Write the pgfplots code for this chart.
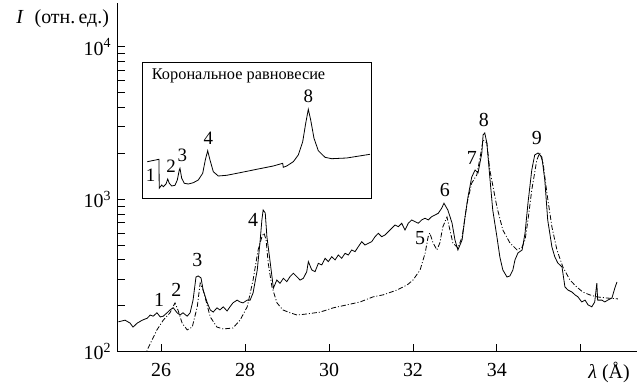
\documentclass[border=0pt]{standalone}
\usepackage{fontspec}
\setmainfont{Liberation Serif}
\usepackage{pgfplots}
\pgfplotsset{compat=1.18}
\begin{document}
\begin{tikzpicture}
\useasboundingbox (-117.5bp,-33.3bp) rectangle (523.5bp,351.7bp);
\begin{axis}[
  at={(0,0)}, anchor=south west,
  scale only axis, width=519.2bp, height=348.7bp,
  xmin=24.96, xmax=37.33,
  ymode=log, ymin=100, ymax=19400,
  axis x line*=bottom, axis y line*=left,
  axis line style={line width=1.1bp},
  tick align=inside,
  xtick={26,28,30,32,34,36}, xticklabels={26,28,30,32,34,{}},
  ytick={100,1000,10000},
  yticklabels={10\textsuperscript{2},10\textsuperscript{3},10\textsuperscript{4}},
  major tick length=7.5bp, minor tick length=7.5bp,
  every tick/.style={black, line width=0.9bp},
  tick label style={font=\fontsize{20}{22}\selectfont},
  xticklabel style={yshift=-8.3bp},
  yticklabel style={xshift=-3bp},
  xlabel={\textit{λ} (Å)},
  xlabel style={at={(axis description cs:0.9467,0)}, anchor=north, yshift=-7bp, font=\fontsize{20}{22}\selectfont},
  ylabel={\textit{I}\hspace{0.55em}(отн.\,ед.)},
  ylabel style={at={(axis description cs:0,1)}, anchor=east, rotate=-90, xshift=-5bp, yshift=-16bp, font=\fontsize{20}{22}\selectfont},
  clip=true,
]
\addplot[black, line width=0.8bp] coordinates {
(24.98,157)(25.14,161)(25.26,154)(25.33,145)(25.43,154)(25.55,161)(25.67,166)(25.74,174)(25.81,171)(25.90,180)(25.98,169)(26.05,171)(26.14,180)(26.21,188)(26.29,194)(26.38,180)(26.45,174)(26.52,180)(26.62,171)(26.69,180)(26.76,218)(26.83,309)(26.88,314)(26.95,305)(27.00,254)(27.10,209)(27.17,188)(27.24,182)(27.33,194)(27.40,188)(27.48,197)(27.57,185)(27.64,197)(27.71,209)(27.81,218)(27.88,212)(27.95,209)(28.05,218)(28.12,218)(28.19,243)(28.29,344)(28.36,541)(28.40,731)(28.43,851)(28.48,813)(28.52,566)(28.60,382)
(28.674,261)(28.755,295)(28.833,281)(28.912,303)(28.993,288)(29.071,311)(29.150,327)(29.231,311)(29.310,295)(29.388,303)(29.469,335)(29.507,390)(29.588,344)(29.667,335)(29.745,380)(29.826,371)(29.905,410)(29.983,390)(30.064,420)(30.143,400)(30.221,431)(30.302,410)(30.381,442)(30.460,431)(30.540,465)(30.619,453)(30.698,489)(30.779,527)(30.857,501)(30.936,514)(31.017,527)(31.095,568)(31.174,598)(31.255,568)(31.333,583)(31.412,613)(31.493,645)(31.571,678)(31.650,661)(31.731,696)(31.810,629)(31.888,696)(31.969,732)(32.048,713)(32.126,696)(32.207,732)(32.286,751)(32.364,732)(32.445,769)(32.524,789)(32.602,809)(32.683,873)(32.738,942)
(32.83,851)(32.93,699)(33.00,541)(33.07,465)(33.17,541)(33.24,765)(33.31,1035)(33.40,1400)(33.48,1557)(33.55,1489)(33.64,2013)(33.67,2642)(33.71,2723)(33.76,2341)(33.83,1400)(33.90,851)(34.00,566)(34.07,418)(34.14,344)(34.24,309)(34.31,314)(34.38,344)(34.43,400)(34.50,444)(34.60,465)(34.67,601)(34.74,946)(34.83,1557)(34.90,1953)(34.98,2013)(35.07,1895)(35.14,1339)(35.21,731)(35.31,486)(35.38,418)(35.45,382)(35.55,360)(35.62,266)(35.69,254)(35.79,246)(35.86,236)(35.93,229)(36.02,212)(36.10,218)(36.17,203)(36.26,197)(36.33,212)(36.38,282)(36.40,218)(36.50,218)(36.57,212)(36.64,218)(36.74,225)(36.81,262)(36.86,287)
};
\addplot[black, line width=0.8bp, dash pattern=on 5bp off 2bp on 1bp off 2bp] coordinates {
(25.60,91)(25.67,103)(25.90,139)(26.05,161)(26.21,180)(26.33,209)(26.40,188)(26.50,154)(26.62,139)(26.74,145)(26.86,197)(26.93,282)(27.00,254)(27.17,169)(27.33,145)(27.48,141)(27.71,143)(27.88,161)(28.05,197)(28.19,295)(28.31,465)(28.40,566)(28.45,601)(28.50,541)(28.55,382)(28.64,266)(28.76,209)(28.90,188)(29.07,180)(29.24,174)(29.48,177)(29.79,182)(30.10,194)(30.43,203)(30.74,212)(31.05,229)(31.29,236)(31.62,254)(31.86,274)(32.00,295)(32.17,344)(32.29,444)(32.36,566)(32.40,601)(32.48,517)(32.57,465)(32.64,517)(32.71,658)(32.81,765)(32.88,629)(32.95,517)(33.07,479)(33.17,566)(33.29,946)(33.40,1279)(33.52,1443)(33.60,1895)(33.67,2449)(33.76,2341)(33.83,1557)(34.00,890)(34.14,629)(34.31,517)(34.48,465)(34.60,486)(34.67,541)(34.74,731)(34.83,1151)(34.95,1811)(35.02,2013)(35.10,1730)(35.19,1100)(35.31,658)(35.43,465)(35.57,360)(35.74,295)(35.90,266)(36.05,246)(36.21,236)(36.38,229)(36.62,225)(36.88,222)
};
\begin{scope}[font=\fontsize{20}{22}\selectfont]
\node at (axis cs:25.95,218) {1};
\node at (axis cs:26.36,254) {2};
\node at (axis cs:26.86,400) {3};
\node at (axis cs:28.19,731) {4};
\node at (axis cs:32.17,557) {5};
\node at (axis cs:32.76,1151) {6};
\node at (axis cs:33.40,1866) {7};
\node at (axis cs:33.69,3313) {8};
\node at (axis cs:34.95,2525) {9};
\end{scope}
\end{axis}
\begin{axis}[
  at={(25.2bp,153.4bp)}, anchor=south west,
  scale only axis, width=229bp, height=136bp,
  xmin=0, xmax=229, ymin=0, ymax=136,
  ticks=none, axis line style={line width=1.1bp},
  clip=false,
]
\addplot[black, line width=0.8bp] coordinates {
(4.6,36.6)(16.3,39)(16.5,10)(19,13.3)(20.6,11.6)(23.3,14.3)(25,19.3)(26.6,15)(29,12.3)(32.3,13)(34.6,18.3)(36.6,28.3)(37.3,30)(39,20)(41.6,15)(45.6,14.3)(50.6,15.6)(55.6,18.3)(60,25)(62.6,38.3)(65,47.6)(67.3,38.3)(70.6,26.6)(75.6,22.3)(84,23)(97.3,25.6)(114,29)(130.6,32.3)(140,35)(140.6,31)(144,32.3)(150.6,36.6)(155.6,43.3)(160,56.6)(163,75)(165.6,89)(168,78.3)(171.3,60)(175.6,47.6)(182.3,41)(189,39.6)(204,40.3)(227.3,44)
};
\begin{scope}[font=\fontsize{19}{21}\selectfont]
\node at (axis cs:8,23.3) {1};
\node at (axis cs:28.3,31.6) {2};
\node at (axis cs:39.6,43.3) {3};
\node at (axis cs:65.6,60) {4};
\node at (axis cs:165.6,101.6) {8};
\end{scope}
\node[anchor=west, inner sep=0pt, font=\fontsize{16.4}{18}\selectfont] at (axis cs:9,122.3) {Корональное равновесие};
\end{axis}
\end{tikzpicture}
\end{document}
